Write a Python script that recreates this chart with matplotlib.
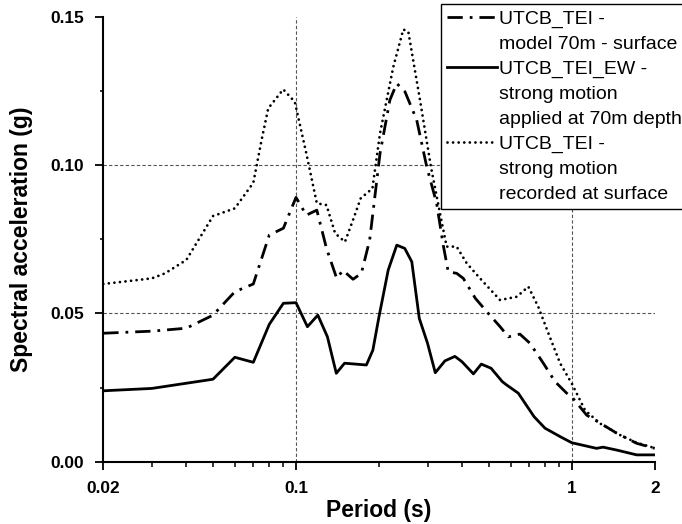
import matplotlib
matplotlib.use("Agg")
import matplotlib.pyplot as plt
from matplotlib.lines import Line2D
from matplotlib.ticker import FixedLocator, FixedFormatter

# ---------------- data ----------------
period_ew = [0.02, 0.03, 0.05, 0.06, 0.07, 0.08, 0.09, 0.10, 0.11, 0.12, 0.13, 0.14, 0.15,
             0.18, 0.19, 0.20, 0.216, 0.232, 0.248, 0.263, 0.28, 0.30, 0.32, 0.347, 0.377,
             0.40, 0.44, 0.47, 0.51, 0.56, 0.58, 0.64, 0.73, 0.80, 0.91, 1.0, 1.23, 1.30,
             1.46, 1.72, 2.0]
sa_ew = [0.0239, 0.0247, 0.0278, 0.0352, 0.0335, 0.0463, 0.0534, 0.0536, 0.0455, 0.0494,
         0.0421, 0.0298, 0.0332, 0.0326, 0.0376, 0.0489, 0.0646, 0.0730, 0.0719, 0.0674,
         0.0483, 0.0399, 0.0300, 0.0340, 0.0355, 0.0337, 0.0296, 0.0329, 0.0315, 0.0270,
         0.0259, 0.0231, 0.0152, 0.0113, 0.0084, 0.0064, 0.0045, 0.0049, 0.0039, 0.0023,
         0.0023]

period_model = [0.02, 0.03, 0.04, 0.05, 0.06, 0.07, 0.08, 0.09, 0.10, 0.109, 0.119, 0.129,
                0.1405, 0.148, 0.161, 0.1726, 0.185, 0.2017, 0.219, 0.232, 0.2485, 0.274,
                0.298, 0.3236, 0.342, 0.3566, 0.3825, 0.4045, 0.447, 0.498, 0.55, 0.589,
                0.649, 0.706, 0.789, 0.87, 0.959, 1.01, 1.133, 1.30, 1.457, 1.72, 2.0]
sa_model = [0.0433, 0.0440, 0.0450, 0.0494, 0.0573, 0.0599, 0.0764, 0.0787, 0.0891, 0.0831,
            0.0848, 0.0719, 0.0618, 0.0645, 0.0615, 0.0635, 0.0747, 0.1039, 0.1219, 0.1275,
            0.1247, 0.1152, 0.0994, 0.0871, 0.0730, 0.0640, 0.0635, 0.0618, 0.0551, 0.0500,
            0.0455, 0.0421, 0.0430, 0.0399, 0.0332, 0.0270, 0.0231, 0.0214, 0.0157, 0.0124,
            0.0096, 0.0062, 0.0045]

period_rec = [0.02, 0.03, 0.0335, 0.04, 0.05, 0.06, 0.07, 0.075, 0.0793, 0.0899, 0.099,
              0.109, 0.119, 0.129, 0.1386, 0.1505, 0.161, 0.1717, 0.1893, 0.2017, 0.2254,
              0.245, 0.2555, 0.2817, 0.3086, 0.3365, 0.352, 0.3825, 0.416, 0.465, 0.5495,
              0.632, 0.696, 0.7565, 0.823, 0.9075, 1.0, 1.117, 1.266, 1.497, 1.72, 2.0]
sa_rec = [0.0599, 0.0618, 0.0635, 0.0680, 0.0828, 0.0854, 0.0940, 0.1084, 0.1191, 0.1255,
          0.1213, 0.1039, 0.0871, 0.0865, 0.0770, 0.0741, 0.0815, 0.0888, 0.0921, 0.1107,
          0.1331, 0.1457, 0.1449, 0.1219, 0.0994, 0.0815, 0.0725, 0.0725, 0.0669, 0.0618,
          0.0545, 0.0556, 0.0590, 0.0522, 0.0433, 0.0332, 0.0264, 0.0174, 0.0129, 0.0090,
          0.0064, 0.0046]

legend_labels = ["UTCB_TEI -", "model 70m - surface",
                 "UTCB_TEI_EW -", "strong motion", "applied at 70m depth",
                 "UTCB_TEI -", "strong motion", "recorded at surface"]

x_major = [0.02, 0.1, 1, 2]
x_major_labels = ["0.02", "0.1", "1", "2"]
x_minor = [0.03, 0.04, 0.05, 0.06, 0.07, 0.08, 0.09, 0.2, 0.3, 0.4, 0.5, 0.6, 0.7, 0.8, 0.9]
y_major = [0.0, 0.05, 0.10, 0.15]
y_major_labels = ["0.00", "0.05", "0.10", "0.15"]
y_minor = [0.025, 0.075, 0.125]
x_grid = [0.1, 1]
y_grid = [0.05, 0.10]

# ---------------- figure ----------------
plt.rcParams['font.family'] = ['Liberation Sans', 'DejaVu Sans']
W, H = 682, 524
fig = plt.figure(figsize=(W / 100, H / 100), dpi=100)
ax = fig.add_axes([103.3 / W, 1 - 461.7 / H, (654.7 - 103.3) / W, (461.7 - 16.7) / H])

for xv in x_grid:
    ax.axvline(xv, color='#555555', lw=0.8, ls=(0, (3, 2)), zorder=1)
for yv in y_grid:
    ax.axhline(yv, color='#555555', lw=0.8, ls=(0, (3, 2)), zorder=1)

l_model, = ax.plot(period_model, sa_model, color='black', lw=2.0,
                   ls=(0, (5.5, 2.5, 1, 2.5)), zorder=3)
l_ew, = ax.plot(period_ew, sa_ew, color='black', lw=2.0, ls='-', zorder=3)
l_rec, = ax.plot(period_rec, sa_rec, color='black', lw=2.0, ls=(0, (0.01, 2.0)),
                 dash_capstyle='round', zorder=3)

ax.set_xscale('log')
ax.set_xlim(0.02, 2)
ax.set_ylim(0, 0.15)

ax.xaxis.set_major_locator(FixedLocator(x_major))
ax.xaxis.set_major_formatter(FixedFormatter(x_major_labels))
ax.xaxis.set_minor_locator(FixedLocator(x_minor))
ax.xaxis.set_minor_formatter(FixedFormatter([""] * len(x_minor)))
ax.yaxis.set_major_locator(FixedLocator(y_major))
ax.yaxis.set_major_formatter(FixedFormatter(y_major_labels))
ax.yaxis.set_minor_locator(FixedLocator(y_minor))

for s in ['top', 'right']:
    ax.spines[s].set_visible(False)
for s in ['left', 'bottom']:
    ax.spines[s].set_linewidth(1.5)
    ax.spines[s].set_color('black')

ax.tick_params(axis='both', which='major', direction='out', length=5.5, width=1.3,
               pad=8.5, labelsize=12.4, colors='black')
ax.tick_params(axis='x', which='minor', direction='out', length=3.6, width=1.1)
ax.tick_params(axis='y', which='minor', direction='out', length=2.5, width=1.1)
for lab in ax.get_xticklabels() + ax.get_yticklabels():
    lab.set_fontweight('bold')

ax.set_xlabel("Period (s)", fontsize=16.5, fontweight='bold', labelpad=2)
ax.set_ylabel("Spectral acceleration (g)", fontsize=16.5, fontweight='bold', labelpad=12)

blank = Line2D([], [], color='none')
handles = [l_model, blank, l_ew, blank, blank, l_rec, blank, blank]
leg = ax.legend(handles, legend_labels, loc='upper left',
                bbox_to_anchor=(441 / W, 1 - 4 / H), bbox_transform=fig.transFigure,
                prop={'family': 'Liberation Sans', 'size': 14},
                handlelength=2.6, handletextpad=0.1, borderpad=0.3,
                labelspacing=0.38, borderaxespad=0, fancybox=False, framealpha=1,
                edgecolor='black')
leg.get_frame().set_linewidth(1.0)
leg.set_zorder(5)

fig.savefig("out.png", dpi=100)
